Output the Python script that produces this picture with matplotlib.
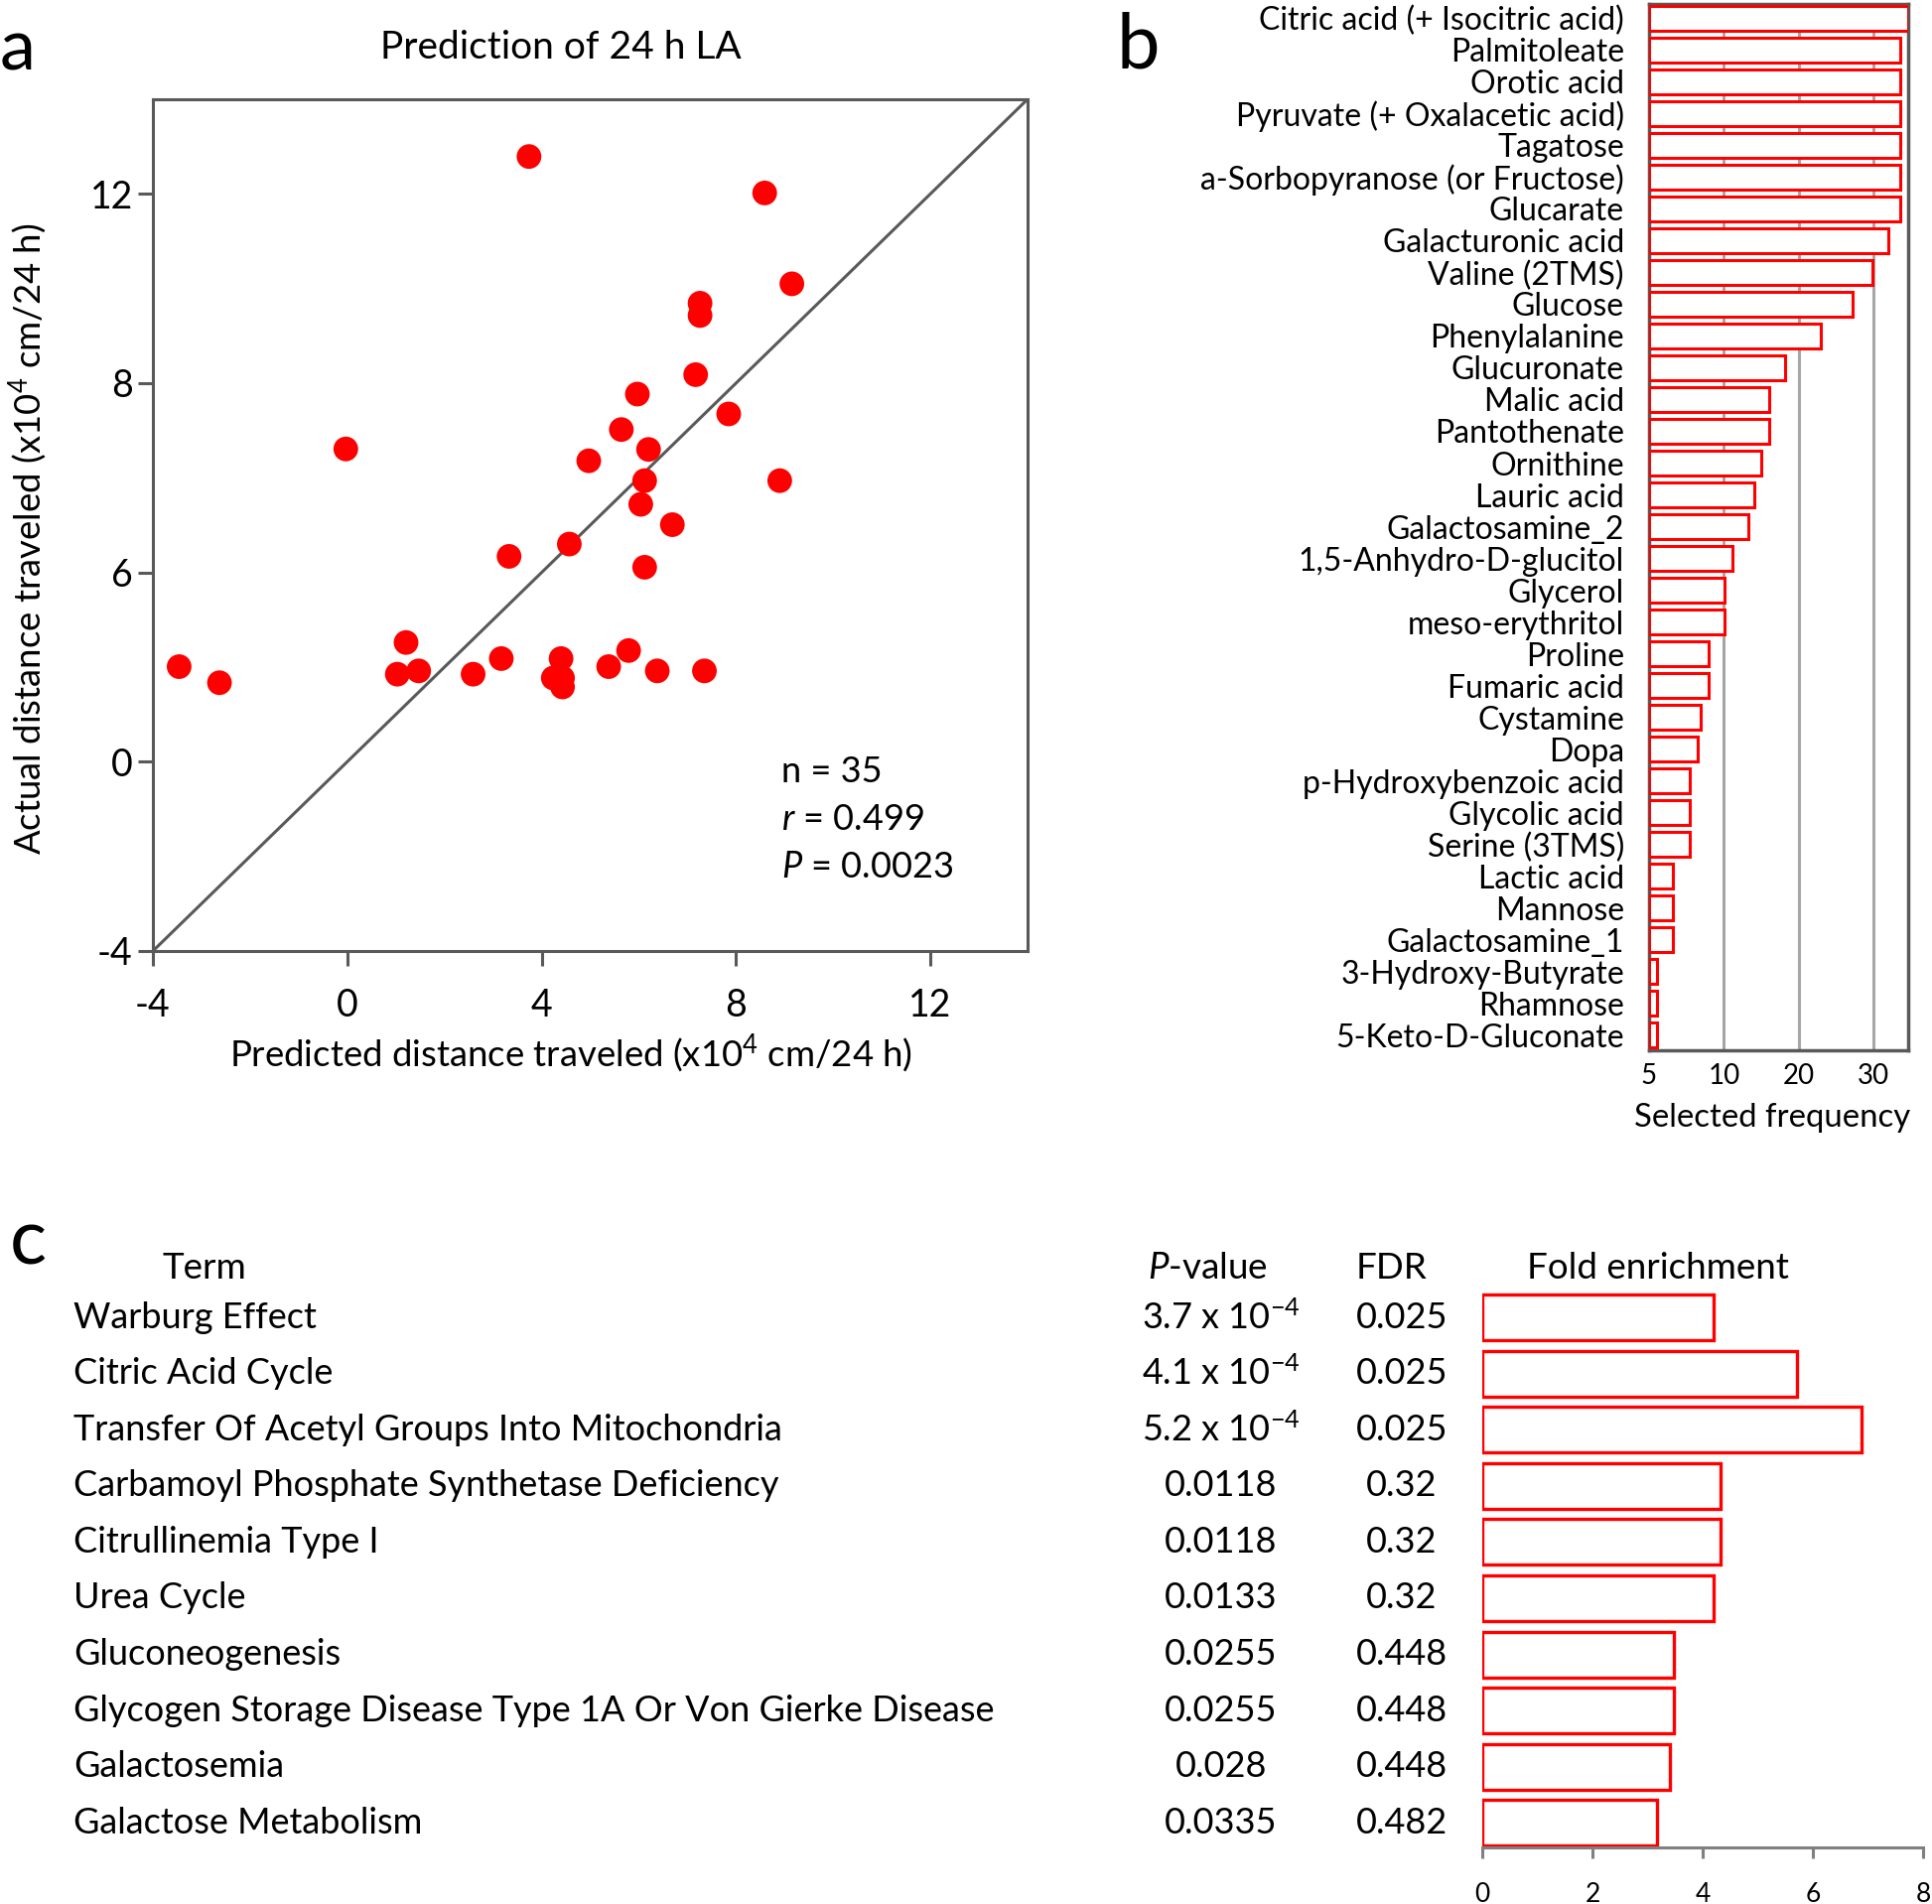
import numpy as np
import matplotlib
matplotlib.use("Agg")
import matplotlib.pyplot as plt
from matplotlib.transforms import blended_transform_factory

plt.rcParams['font.family'] = ['Lato', 'DejaVu Sans']
plt.rcParams['mathtext.fontset'] = 'custom'
plt.rcParams['mathtext.rm'] = 'Lato'
plt.rcParams['mathtext.it'] = 'Lato:italic'

# panel a data (x10^4 cm / 24 h)
predicted = [3.74, 8.59, 9.15, 7.26, 7.26, 7.17, 5.97, 7.85, 5.64, -0.03,
             6.20, 4.97, 6.12, 8.90, 6.04, 6.69, 4.57, 3.33, 6.12, 1.21,
             -3.46, -2.63, 1.03, 1.47, 2.59, 3.17, 4.40, 4.24, 4.43, 4.43,
             5.38, 5.79, 6.38, 7.35, 4.35]
actual = [12.79, 12.02, 10.10, 9.69, 9.43, 8.18, 7.77, 7.35, 7.02, 6.61,
          6.60, 6.36, 5.94, 5.94, 5.44, 5.01, 4.60, 4.34, 4.11, 2.52,
          2.01, 1.67, 1.85, 1.92, 1.85, 2.18, 2.18, 1.77, 1.77, 1.58,
          2.01, 2.35, 1.92, 1.92, 1.80]
a_ticks = [-4, 0, 4, 8, 12]
a_xticklabels = ["-4", "0", "4", "8", "12"]
a_yticklabels = ["-4", "0", "6", "8", "12"]

# panel b data
metabolites = ["Citric acid (+ Isocitric acid)", "Palmitoleate", "Orotic acid",
               "Pyruvate (+ Oxalacetic acid)", "Tagatose", "a-Sorbopyranose (or Fructose)",
               "Glucarate", "Galacturonic acid", "Valine (2TMS)", "Glucose",
               "Phenylalanine", "Glucuronate", "Malic acid", "Pantothenate",
               "Ornithine", "Lauric acid", "Galactosamine_2", "1,5-Anhydro-D-glucitol",
               "Glycerol", "meso-erythritol", "Proline", "Fumaric acid", "Cystamine",
               "Dopa", "p-Hydroxybenzoic acid", "Glycolic acid", "Serine (3TMS)",
               "Lactic acid", "Mannose", "Galactosamine_1", "3-Hydroxy-Butyrate",
               "Rhamnose", "5-Keto-D-Gluconate"]
frequency = [34.6, 33.5, 33.5, 33.5, 33.5, 33.5, 33.5, 32.0, 29.8, 27.2,
             23.0, 18.2, 16.0, 16.0, 15.0, 14.0, 13.3, 11.2, 10.1, 10.1,
             8.0, 8.0, 6.9, 6.5, 5.4, 5.4, 5.4, 3.2, 3.2, 3.2,
             1.1, 1.1, 1.1]
b_ticks = [0, 10, 20, 30]
b_ticklabels = ["5", "10", "20", "30"]

# panel c data
terms = ["Warburg Effect", "Citric Acid Cycle", "Transfer Of Acetyl Groups Into Mitochondria",
         "Carbamoyl Phosphate Synthetase Deficiency", "Citrullinemia Type I", "Urea Cycle",
         "Gluconeogenesis", "Glycogen Storage Disease Type 1A Or Von Gierke Disease",
         "Galactosemia", "Galactose Metabolism"]
pvalues = ["3.7 x 10$^{-4}$", "4.1 x 10$^{-4}$", "5.2 x 10$^{-4}$", "0.0118", "0.0118",
           "0.0133", "0.0255", "0.0255", "0.028", "0.0335"]
fdr = ["0.025", "0.025", "0.025", "0.32", "0.32", "0.32", "0.448", "0.448", "0.448", "0.482"]
fold = [4.19, 5.72, 6.88, 4.33, 4.33, 4.19, 3.48, 3.48, 3.41, 3.18]

W, H = 1946, 1918
fig = plt.figure(figsize=(W / 100, H / 100), dpi=100)

def box(l, t, r, b):
    return [l / W, 1 - b / H, (r - l) / W, (b - t) / H]

def fx(px):
    return px / W

def fy(py):
    return 1 - py / H

grey = '#595959'
red = '#FF0000'

# ---------------- panel a ----------------
ax1 = fig.add_axes(box(154, 100, 1035, 958))
ax1.scatter(predicted, actual, s=320, color=red, edgecolors='none', zorder=3)
ax1.axline((0, 0), slope=1, color=grey, lw=2.2, zorder=2)
ax1.set_xlim(-4, 14)
ax1.set_ylim(-4, 14)
ax1.set_xticks(a_ticks)
ax1.set_xticklabels(a_xticklabels)
ax1.set_yticks(a_ticks)
ax1.set_yticklabels(a_yticklabels)
for sp in ax1.spines.values():
    sp.set_color(grey)
    sp.set_linewidth(2.2)
ax1.tick_params(length=10.5, width=2.2, color=grey, labelsize=27, pad=4)
ax1.tick_params(axis='x', pad=16)
fig.text(fx(565), fy(48), "Prediction of 24 h LA", fontsize=28, ha='center', va='center')
fig.text(fx(575), fy(1061), "Predicted distance traveled (x10$^4$ cm/24 h)",
         fontsize=26.3, ha='center', va='center')
fig.text(fx(28), fy(543), "Actual distance traveled (x10$^4$ cm/24 h)",
         fontsize=26.3, ha='center', va='center', rotation=90)
for i, s in enumerate(["n = 35", "$r$ = 0.499", "$P$ = 0.0023"]):
    fig.text(fx(787), fy(777 + 48 * i), s, fontsize=26, ha='left', va='center')
fig.text(fx(0), fy(50), "a", fontsize=52, ha='left', va='center')

# ---------------- panel b ----------------
ax2 = fig.add_axes(box(1661, 4, 1922, 1058))
ypos = np.arange(len(metabolites))
ax2.barh(ypos, frequency, height=0.78, color='white', edgecolor=red, linewidth=2.2, zorder=3)
ax2.set_ylim(len(metabolites) - 0.52, -0.45)
ax2.set_xlim(0, 34.6)
ax2.set_yticks(ypos)
ax2.set_yticklabels(metabolites, fontsize=23)
ax2.set_xticks(b_ticks)
ax2.set_xticklabels(b_ticklabels, fontsize=20)
ax2.tick_params(axis='y', length=0, pad=18)
ax2.tick_params(axis='x', length=0, pad=9)
ax2.grid(axis='x', color='#a6a6a6', lw=2.2)
ax2.set_axisbelow(True)
for sp in ax2.spines.values():
    sp.set_color(grey)
    sp.set_linewidth(2.5)
fig.text(fx(1785), fy(1126), "Selected frequency", fontsize=23.7, ha='center', va='center')
fig.text(fx(1124), fy(47), "b", fontsize=56, ha='left', va='center')

# ---------------- panel c ----------------
ax3 = fig.add_axes(box(1493, 1290, 1937, 1861))
rows = np.arange(len(terms))
ax3.barh(rows, fold, height=0.81, color='white', edgecolor=red, linewidth=2.4)
ax3.set_xlim(0, 8)
ax3.set_ylim(9.435, -0.654)
ax3.set_xticks([0, 2, 4, 6, 8])
ax3.set_yticks([])
for k in ['top', 'right', 'left']:
    ax3.spines[k].set_visible(False)
ax3.spines['bottom'].set_color('#808080')
ax3.spines['bottom'].set_linewidth(2.2)
ax3.tick_params(axis='x', length=8, width=2.2, color='#808080', labelsize=19, pad=17)

tr = blended_transform_factory(fig.transFigure, ax3.transData)
for i in rows:
    ax3.text(fx(74), i, terms[i], transform=tr, fontsize=26, ha='left', va='center', clip_on=False)
    ax3.text(fx(1230), i, pvalues[i], transform=tr, fontsize=26, ha='center', va='center', clip_on=False)
    ax3.text(fx(1412), i, fdr[i], transform=tr, fontsize=26, ha='center', va='center', clip_on=False)
fig.text(fx(163), fy(1277), "Term", fontsize=26.5, ha='left', va='center')
fig.text(fx(1216), fy(1277), "$P$-value", fontsize=26.5, ha='center', va='center')
fig.text(fx(1402), fy(1277), "FDR", fontsize=26.5, ha='center', va='center')
fig.text(fx(1670), fy(1277), "Fold enrichment", fontsize=26.5, ha='center', va='center')
fig.text(fx(10), fy(1252), "c", fontsize=56, ha='left', va='center')

fig.savefig("out.png", dpi=100)
